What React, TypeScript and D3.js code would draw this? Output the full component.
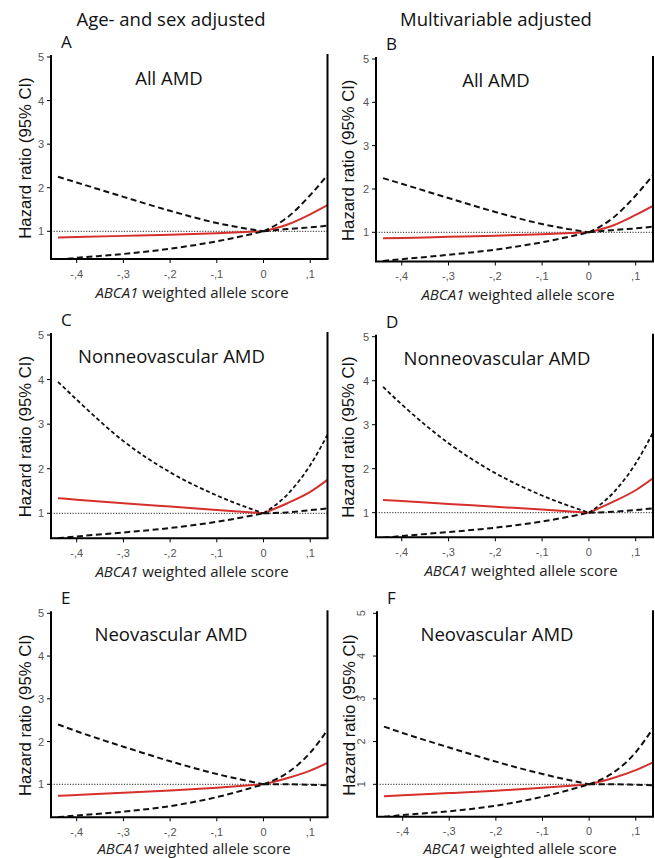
import React from "react";
import * as d3 from "d3";

// ---- data ----
const xValues = [-0.44, -0.4, -0.3, -0.2, -0.1, 0, 0.05, 0.1, 0.137];
const KNOT_INDEX = 5; // x = 0, where the spline bends

const upperA = [2.25, 2.12, 1.79, 1.47, 1.19, 1.0, 1.31, 1.83, 2.29];
const hrA = [0.86, 0.87, 0.895, 0.92, 0.955, 1.0, 1.15, 1.39, 1.6];
const lowerA = [0.35, 0.39, 0.48, 0.6, 0.77, 1.0, 1.05, 1.09, 1.13];

const upperB = [2.25, 2.12, 1.79, 1.47, 1.19, 1.0, 1.32, 1.85, 2.32];
const hrB = [0.86, 0.87, 0.895, 0.92, 0.955, 1.0, 1.15, 1.4, 1.61];
const lowerB = [0.34, 0.38, 0.48, 0.6, 0.77, 1.0, 1.05, 1.09, 1.13];

const upperC = [3.95, 3.55, 2.62, 1.92, 1.4, 1.0, 1.41, 2.08, 2.76];
const hrC = [1.34, 1.305, 1.225, 1.15, 1.075, 1.0, 1.22, 1.48, 1.75];
const lowerC = [0.44, 0.48, 0.57, 0.67, 0.81, 1.0, 1.02, 1.07, 1.11];

const upperD = [3.86, 3.46, 2.58, 1.9, 1.39, 1.0, 1.43, 2.12, 2.82];
const hrD = [1.29, 1.265, 1.2, 1.135, 1.07, 1.0, 1.24, 1.51, 1.78];
const lowerD = [0.43, 0.47, 0.56, 0.66, 0.8, 1.0, 1.02, 1.06, 1.1];

const upperE = [2.4, 2.24, 1.88, 1.54, 1.24, 1.0, 1.26, 1.74, 2.27];
const hrE = [0.73, 0.75, 0.8, 0.855, 0.92, 1.0, 1.14, 1.32, 1.5];
const lowerE = [0.23, 0.27, 0.36, 0.49, 0.7, 1.0, 1.0, 0.99, 0.98];

const upperF = [2.35, 2.2, 1.86, 1.53, 1.24, 1.0, 1.26, 1.75, 2.31];
const hrF = [0.72, 0.745, 0.795, 0.85, 0.92, 1.0, 1.14, 1.33, 1.51];
const lowerF = [0.24, 0.28, 0.37, 0.5, 0.71, 1.0, 1.0, 0.99, 0.98];

const xTicks = [-0.4, -0.3, -0.2, -0.1, 0, 0.1];
const xTickLabels = ["-,4", "-,3", "-,2", "-,1", "0", ",1"];
const yTicks = [1, 2, 3, 4, 5];
const xDomain = [-0.455, 0.137];

const columnTitles = ["Age- and sex adjusted", "Multivariable adjusted"];
const panelLetters = ["A", "B", "C", "D", "E", "F"];
const panelTitles = ["All AMD", "All AMD", "Nonneovascular AMD", "Nonneovascular AMD", "Neovascular AMD", "Neovascular AMD"];
const upperSeries = [upperA, upperB, upperC, upperD, upperE, upperF];
const hrSeries = [hrA, hrB, hrC, hrD, hrE, hrF];
const lowerSeries = [lowerA, lowerB, lowerC, lowerD, lowerE, lowerF];

// ---- layout ----
const layouts = [
  { left: 51, right: 327.5, y5: 57, y1: 231.3, bottom: 259, cx: 169, lx: 25, ylx: 44, xlx: 192, xlOff: 39 },
  { left: 376, right: 653, y5: 59, y1: 232.3, bottom: 261.5, cx: 496, lx: 348, ylx: 369, xlx: 518, xlOff: 38 },
  { left: 51, right: 327.5, y5: 335, y1: 513.3, bottom: 538.3, cx: 171.5, lx: 25, ylx: 44, xlx: 192, xlOff: 38.5 },
  { left: 376, right: 653, y5: 336.7, y1: 512.7, bottom: 537.3, cx: 497, lx: 348, ylx: 369, xlx: 521, xlOff: 38.5 },
  { left: 51, right: 327.5, y5: 613.3, y1: 784.3, bottom: 817.3, cx: 171, lx: 25, ylx: 44, xlx: 194, xlOff: 37 },
  { left: 377, right: 653, y5: 613.3, y1: 784.3, bottom: 816.7, cx: 497, lx: 349, ylx: 367, xlx: 520, xlOff: 37 },
];

const RED = "#d62f2c";
const TITLE_FONT = "'Open Sans', sans-serif";
const TICK_FONT = "'Liberation Sans', Arial, sans-serif";

function Panel({ i }: { i: number }) {
  const L = layouts[i];
  const x = d3.scaleLinear().domain(xDomain).range([L.left, L.right]);
  const y = d3.scaleLinear().domain([1, 5]).range([L.y1, L.y5]);
  const line = d3
    .line<[number, number]>()
    .x((d) => x(d[0]))
    .y((d) => y(d[1]))
    .curve(d3.curveMonotoneX);
  // draw left and right of the knot separately so the bend at 0 stays sharp
  const path = (vals: number[]) => {
    const pts = vals.map((v, k) => [xValues[k], v] as [number, number]);
    return (line(pts.slice(0, KNOT_INDEX + 1)) || "") + (line(pts.slice(KNOT_INDEX)) || "");
  };
  const clipId = `clip${i}`;
  const rotatedTicks = i === 5;
  const bigUpper = i === 2 || i === 3;
  return (
    <g>
      <defs>
        <clipPath id={clipId}>
          <rect x={L.left} y={L.y5 - 4} width={L.right - L.left} height={L.bottom - L.y5 + 4} />
        </clipPath>
      </defs>
      {/* reference line */}
      <line x1={L.left} x2={L.right} y1={y(1)} y2={y(1)} stroke="#222" strokeWidth={1} strokeDasharray="1.2,1.5" />
      <g clipPath={`url(#${clipId})`} fill="none">
        <path d={path(hrSeries[i])} stroke={RED} strokeWidth={2} />
        <path
          d={path(upperSeries[i])}
          stroke="#111"
          strokeWidth={bigUpper ? 1.8 : 2}
          strokeDasharray={bigUpper ? "4,2.6" : "6,3.5"}
        />
        <path d={path(lowerSeries[i])} stroke="#111" strokeWidth={2} strokeDasharray="6,3.5" />
      </g>
      {/* axes */}
      <line x1={L.left} x2={L.left} y1={L.y5 - 2} y2={L.bottom} stroke="#000" strokeWidth={2} />
      <line x1={L.right} x2={L.right} y1={L.y5 - 3} y2={L.bottom} stroke="#000" strokeWidth={2} />
      <line x1={L.left - 1} x2={L.right + 1} y1={L.bottom} y2={L.bottom} stroke="#000" strokeWidth={2} />
      {yTicks.map((t) => (
        <g key={`y${t}`}>
          <line x1={L.left - 4} x2={L.left} y1={y(t)} y2={y(t)} stroke="#000" strokeWidth={1} />
          {rotatedTicks ? (
            <text
              transform={`translate(${L.ylx - 2},${y(t)}) rotate(-90)`}
              textAnchor="middle"
              fontFamily={TICK_FONT}
              fontSize={11}
              fill="#555"
            >
              {t}
            </text>
          ) : (
            <text x={L.ylx} y={y(t) + 4} textAnchor="end" fontFamily={TICK_FONT} fontSize={11} fill="#555">
              {t}
            </text>
          )}
        </g>
      ))}
      {xTicks.map((t, k) => (
        <g key={`x${k}`}>
          <line x1={x(t)} x2={x(t)} y1={L.bottom} y2={L.bottom + 4} stroke="#000" strokeWidth={1} />
          <text x={x(t)} y={L.bottom + 18.5} textAnchor="middle" fontFamily={TICK_FONT} fontSize={11} fill="#555">
            {xTickLabels[k]}
          </text>
        </g>
      ))}
      {/* labels */}
      <text
        transform={`translate(${L.lx + 6},${(L.y5 + L.bottom) / 2}) rotate(-90)`}
        textAnchor="middle"
        fontFamily={TICK_FONT}
        fontSize={16.7}
        fill="#111"
      >
        Hazard ratio (95% CI)
      </text>
      <text x={L.xlx} y={L.bottom + L.xlOff} textAnchor="middle" fontFamily={TITLE_FONT} fontSize={15} fill="#222">
        <tspan fontStyle="italic">ABCA1</tspan> weighted allele score
      </text>
      <text x={L.left + 10} y={L.y5 - 9} fontFamily={TITLE_FONT} fontSize={17} fill="#111">
        {panelLetters[i]}
      </text>
      <text x={L.cx} y={L.y5 + 28} textAnchor="middle" fontFamily={TITLE_FONT} fontSize={18.5} fill="#111">
        {panelTitles[i]}
      </text>
    </g>
  );
}

export default function App() {
  return (
    <svg width={655} height={858} style={{ position: "absolute", left: 0, top: 0, background: "#fff" }}>
      <rect width={655} height={858} fill="#fff" />
      <text x={171} y={26} textAnchor="middle" fontFamily={TITLE_FONT} fontSize={18.5} fill="#111">
        {columnTitles[0]}
      </text>
      <text x={496} y={26} textAnchor="middle" fontFamily={TITLE_FONT} fontSize={18.5} fill="#111">
        {columnTitles[1]}
      </text>
      {panelLetters.map((_, i) => (
        <Panel key={i} i={i} />
      ))}
    </svg>
  );
}
